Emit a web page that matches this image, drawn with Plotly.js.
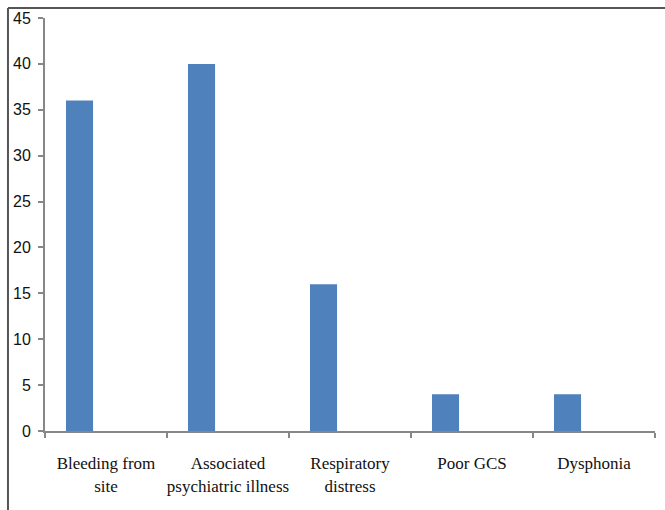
<!DOCTYPE html>
<html>
<head>
<meta charset="utf-8">
<script src="https://cdn.plot.ly/plotly-3.0.1.min.js"></script>
<style>
html,body{margin:0;padding:0;background:#fff;}
#chart{width:665px;height:510px;}
</style>
</head>
<body>
<div id="chart"></div>
<script>
var categories = ["Bleeding from<br>site", "Associated<br>psychiatric illness", "Respiratory<br>distress", "Poor GCS", "Dysphonia"];
var values = [36, 40, 16, 4, 4];
var yTicks = [0, 5, 10, 15, 20, 25, 30, 35, 40, 45];

var trace = {
  type: "bar",
  x: categories,
  y: values,
  width: 0.222,
  offset: -0.328,
  marker: {color: "#4F81BD", line: {width: 0}},
  hoverinfo: "x+y"
};

var layout = {
  width: 665,
  height: 510,
  margin: {l: 45, r: 10, t: 18, b: 79, pad: 0},
  paper_bgcolor: "#ffffff",
  plot_bgcolor: "#ffffff",
  showlegend: false,
  xaxis: {
    type: "category",
    range: [-0.5, 4.5],
    showline: true,
    linecolor: "#878787",
    linewidth: 2,
    ticks: "outside",
    tickson: "boundaries",
    ticklen: 5,
    tickwidth: 2,
    tickcolor: "#878787",
    showgrid: false,
    zeroline: false,
    tickangle: 0,
    ticklabelstandoff: 16,
    tickfont: {family: "Times New Roman, Liberation Serif, DejaVu Serif, serif", size: 17, color: "#111"}
  },
  yaxis: {
    range: [0, 45],
    tickvals: yTicks,
    ticktext: yTicks.map(String),
    showline: true,
    linecolor: "#878787",
    linewidth: 2,
    ticks: "outside",
    ticklen: 5,
    tickwidth: 2,
    tickcolor: "#878787",
    showgrid: false,
    zeroline: false,
    ticklabelstandoff: 4,
    tickfont: {family: "Liberation Sans, Arial, sans-serif", size: 16, color: "#111"}
  },
  shapes: [
    {type: "line", xref: "paper", yref: "paper", x0: -0.0607, x1: 1.03, y0: 1.0242, y1: 1.0242, line: {color: "#555", width: 2}},
    {type: "line", xref: "paper", yref: "paper", x0: -0.0607, x1: -0.0607, y0: 1.0242, y1: -0.2, line: {color: "#555", width: 2}}
  ]
};

Plotly.newPlot("chart", [trace], layout, {displayModeBar: false, staticPlot: true});
</script>
</body>
</html>
